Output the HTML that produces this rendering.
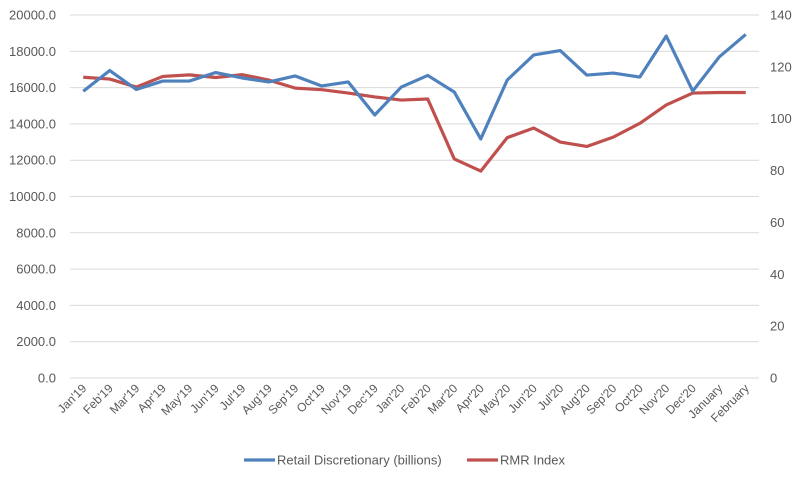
<!DOCTYPE html>
<html><head><meta charset="utf-8"><style>
body{margin:0;background:#fff;}
svg{display:block;font-family:"Liberation Sans",sans-serif;}
</style></head><body>
<svg id="chart" width="800" height="480"></svg>
<script>
const categories=["Jan'19","Feb'19","Mar'19","Apr'19","May'19","Jun'19","Jul'19","Aug'19","Sep'19","Oct'19","Nov'19","Dec'19","Jan'20","Feb'20","Mar'20","Apr'20","May'20","Jun'20","Jul'20","Aug'20","Sep'20","Oct'20","Nov'20","Dec'20","January","February"];
const retailValues=[15800,16940,15900,16360,16360,16830,16530,16310,16640,16090,16310,14490,16030,16670,15760,13170,16420,17800,18040,16690,16800,16580,18840,15810,17690,18930];
const rmrValues=[116,115.3,112.2,116.3,116.9,115.9,117,114.9,111.8,111.2,109.9,108.4,107.2,107.6,84.5,79.8,92.7,96.4,91,89.3,92.9,98.2,105.3,109.9,110.1,110.1];
const leftTicks=[0,2000,4000,6000,8000,10000,12000,14000,16000,18000,20000];
const rightTicks=[0,20,40,60,80,100,120,140];

const NS="http://www.w3.org/2000/svg";
const svg=document.getElementById('chart');
const X0=70,X1=759,Y0=378,Y1=15;
const band=(X1-X0)/categories.length;
const xAt=i=>X0+band*(i+0.5);
const yL=v=>Y0-(v/20000)*(Y0-Y1);
const yR=v=>Y0-(v/140)*(Y0-Y1);
function mk(t,a,txt){const e=document.createElementNS(NS,t);for(const k in a)e.setAttribute(k,a[k]);if(txt!==undefined)e.textContent=txt;svg.appendChild(e);return e;}

leftTicks.forEach(v=>{
  const g=mk('line',{x1:X0,x2:X1,y1:yL(v),y2:yL(v),stroke:'#d9d9d9','stroke-width':1});
  
  
  const t=mk('text',{x:56,y:yL(v)+4.5,'text-anchor':'end','font-size':13,fill:'#595959'},v.toFixed(1));
  
  
});
rightTicks.forEach(v=>{
  const t=mk('text',{x:770,y:yR(v)+4.5,'text-anchor':'start','font-size':13,fill:'#595959'},String(v));
  
  
});
categories.forEach((c,i)=>{
  const x=xAt(i)+4,y=389;
  const t=mk('text',{x:x,y:y,'text-anchor':'end','font-size':12,fill:'#595959',transform:`rotate(-45 ${x} ${y})`},c);
  
  
});
const rp=rmrValues.map((v,i)=>xAt(i)+','+yR(v)).join(' ');
const rl=mk('polyline',{points:rp,fill:'none',stroke:'#c0504d','stroke-width':3.2,'stroke-linejoin':'round'});


const bp=retailValues.map((v,i)=>xAt(i)+','+yL(v)).join(' ');
const bl=mk('polyline',{points:bp,fill:'none',stroke:'#4f81bd','stroke-width':3.2,'stroke-linejoin':'round'});



const l1=mk('line',{x1:244,x2:275,y1:460,y2:460,stroke:'#4f81bd','stroke-width':3.2});


const t1=mk('text',{x:277,y:464.5,'font-size':13,fill:'#595959'},'Retail Discretionary (billions)');


const l2=mk('line',{x1:467,x2:498,y1:460,y2:460,stroke:'#c0504d','stroke-width':3.2});


const t2=mk('text',{x:500,y:464.5,'font-size':13,fill:'#595959'},'RMR Index');


</script>
</body></html>
